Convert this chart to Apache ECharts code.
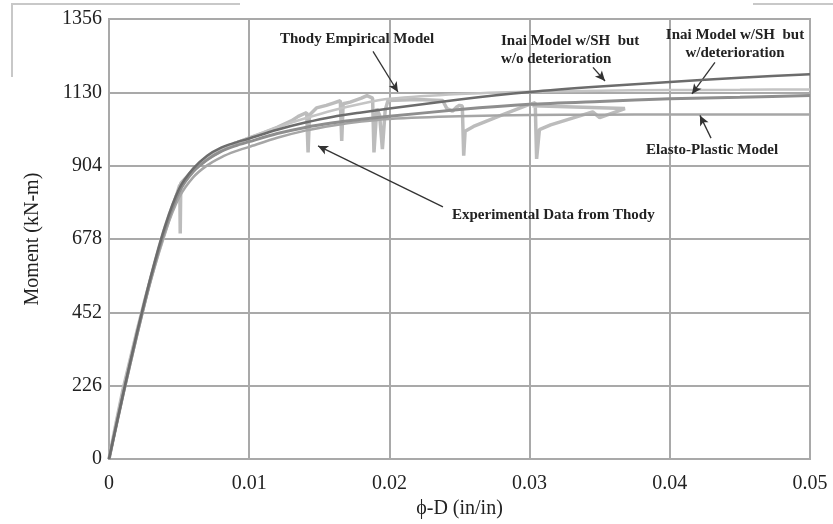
<!DOCTYPE html>
<html>
<head>
<meta charset="utf-8">
<script src="https://cdn.jsdelivr.net/npm/echarts@6/dist/echarts.min.js"></script>
<style>html,body{margin:0;padding:0;background:#fff}#c{width:833px;height:524px}</style>
</head>
<body>
<div id="c"></div>
<script>
// ---- data ----
const xTicks = [0, 0.01, 0.02, 0.03, 0.04, 0.05];
const yTicks = [0, 226, 452, 678, 904, 1130, 1356];
const modelX = [0, 0.001, 0.002, 0.003, 0.004, 0.005, 0.006, 0.007, 0.008, 0.009, 0.01, 0.012, 0.014, 0.016, 0.018, 0.02, 0.025, 0.03, 0.035, 0.04, 0.045, 0.05];
const inaiNoDet = [0, 200, 390, 565, 718, 833, 895, 935, 960, 975, 988, 1015, 1037, 1055, 1068, 1080, 1108, 1131, 1148, 1162, 1175, 1186];
const inaiDet   = [0, 198, 385, 560, 710, 823, 885, 922, 948, 965, 978, 1003, 1022, 1036, 1047, 1056, 1077, 1093, 1102, 1110, 1115, 1120];
const elastoPl  = [0, 195, 380, 552, 698, 806, 868, 905, 930, 948, 962, 990, 1012, 1028, 1040, 1048, 1056, 1060, 1061, 1062, 1062, 1062];
const thodyEmp  = [0, 200, 392, 568, 720, 833, 893, 930, 956, 975, 990, 1022, 1050, 1075, 1095, 1110, 1125, 1132, 1135, 1137, 1138, 1139];
const expX = [0, 0.0005, 0.001, 0.0015, 0.002, 0.0025, 0.003, 0.0035, 0.004, 0.0045, 0.00505, 0.00508, 0.00512, 0.006, 0.007, 0.008, 0.009, 0.01, 0.011, 0.012, 0.013, 0.0135, 0.0141, 0.0142, 0.0143, 0.0148, 0.0155, 0.016, 0.0165, 0.0166, 0.0167, 0.0172, 0.018, 0.0184, 0.0188, 0.0189, 0.0191, 0.0193, 0.0195, 0.0197, 0.0199, 0.022, 0.0238, 0.0241, 0.0245, 0.0248, 0.025, 0.0252, 0.0253, 0.0254, 0.026, 0.028, 0.0298, 0.0304, 0.0305, 0.0307, 0.0315, 0.0345, 0.035, 0.0368, 0.0302];
const expM = [0, 110, 215, 305, 395, 480, 560, 632, 700, 770, 845, 695, 850, 890, 925, 950, 972, 990, 1005, 1022, 1042, 1056, 1068, 945, 1060, 1082, 1090, 1097, 1104, 980, 1095, 1100, 1112, 1120, 1112, 945, 1080, 1060, 955, 1075, 1105, 1108, 1105, 1080, 1072, 1085, 1090, 1088, 935, 1010, 1025, 1060, 1090, 1098, 925, 1015, 1030, 1070, 1052, 1080, 1089];
const gridExtraX = [0.005];
// annotations: [x1, y1, x2, y2] in data units (arrow tail -> head)
const arrows = [
  [0.01883, 1256, 0.02061, 1131],
  [0.03452, 1207, 0.03538, 1165],
  [0.04322, 1222, 0.04158, 1125],
  [0.04294, 989, 0.04215, 1059],
  [0.02382, 777, 0.01491, 965]
];

const pair = (xs, ys) => xs.map((x, i) => [x, ys[i]]);
const gridColor = '#a9a9a9';
const serif = '"Liberation Serif", "DejaVu Serif", serif';

const chart = echarts.init(document.getElementById('c'), null, {renderer: 'canvas'});
const lineS = (name, data, color, width, z, smooth) => ({
  name, type: 'line', data, showSymbol: false, symbol: 'none',
  smooth: smooth || false,
  lineStyle: {color, width}, z, silent: true
});

const annot = (text, x, y, align) => ({
  type: 'text', x, y, z: 100,
  style: {text, fontFamily: serif, fontWeight: 'bold', fontSize: 15, fill: '#222',
          align: align || 'left', verticalAlign: 'middle', lineHeight: 18}
});

chart.setOption({
  animation: false,
  backgroundColor: '#fff',
  grid: {left: 109, right: 23, top: 19, bottom: 58, show: true, borderColor: gridColor, borderWidth: 2},
  xAxis: {
    type: 'value', min: 0, max: 0.05, interval: 0.01,
    name: 'ϕ-D (in/in)', nameLocation: 'middle', nameGap: 31,
    nameTextStyle: {fontFamily: serif, fontSize: 20, color: '#222'},
    axisLine: {show: true, lineStyle: {color: gridColor, width: 2}},
    axisTick: {show: false},
    splitLine: {show: true, lineStyle: {color: gridColor, width: 2}},
    axisLabel: {fontFamily: serif, fontSize: 20, color: '#222', margin: 15,
      formatter: v => { const t = xTicks.find(k => Math.abs(k - v) < 1e-9); return t === undefined ? '' : String(t); }}
  },
  yAxis: {
    type: 'value', min: 0, max: 1356, interval: 226,
    name: 'Moment (kN-m)', nameLocation: 'middle', nameGap: 66, nameRotate: 90,
    nameTextStyle: {fontFamily: serif, fontSize: 20, color: '#222'},
    axisLine: {show: true, lineStyle: {color: gridColor, width: 2}},
    axisTick: {show: false},
    splitLine: {show: true, lineStyle: {color: gridColor, width: 2}},
    axisLabel: {fontFamily: serif, fontSize: 20, color: '#222', margin: 7,
      formatter: v => { const t = yTicks.find(k => Math.abs(k - v) < 1e-6); return t === undefined ? '' : String(t); }}
  },
  series: [
    Object.assign(lineS('Experimental Data from Thody', pair(expX, expM), '#bcbcbc', 3.5, 2), {
      markLine: {
        silent: true, symbol: ['none', 'arrow'], symbolSize: [7, 10],
        lineStyle: {color: '#333', width: 1.3, type: 'solid'}, label: {show: false},
        data: arrows.map(a => [{coord: [a[0], a[1]]}, {coord: [a[2], a[3]]}])
      }
    }),
    Object.assign(lineS('Thody Empirical Model', pair(modelX, thodyEmp), '#c4c4c4', 2.5, 3, 0.25), {
      markLine: {
        silent: true, symbol: ['none', 'none'], label: {show: false},
        lineStyle: {color: gridColor, width: 2, type: 'solid'},
        data: gridExtraX.map(x => ({xAxis: x}))
      }
    }),
    lineS('Elasto-Plastic Model', pair(modelX, elastoPl), '#a6a6a6', 2.5, 4, 0.25),
    lineS('Inai Model w/SH but w/deterioration', pair(modelX, inaiDet), '#8e8e8e', 3, 5, 0.25),
    lineS('Inai Model w/SH but w/o deterioration', pair(modelX, inaiNoDet), '#6c6c6c', 2.5, 6, 0.25)
  ],
  graphic: [
    {type: 'polyline', z: 100, shape: {points: [[12, 77], [12, 4], [240, 4]]}, style: {stroke: '#c8c8c8', lineWidth: 2, fill: null}},
    {type: 'line', z: 100, shape: {x1: 753, y1: 4, x2: 833, y2: 4}, style: {stroke: '#c8c8c8', lineWidth: 2}},
    annot('Thody Empirical Model', 280, 39),
    annot('Inai Model w/SH  but\nw/o deterioration', 501, 50),
    annot('Inai Model w/SH  but\nw/deterioration', 735, 44, 'center'),
    annot('Elasto-Plastic Model', 646, 150),
    annot('Experimental Data from Thody', 452, 215)
  ]
});
</script>
</body>
</html>
